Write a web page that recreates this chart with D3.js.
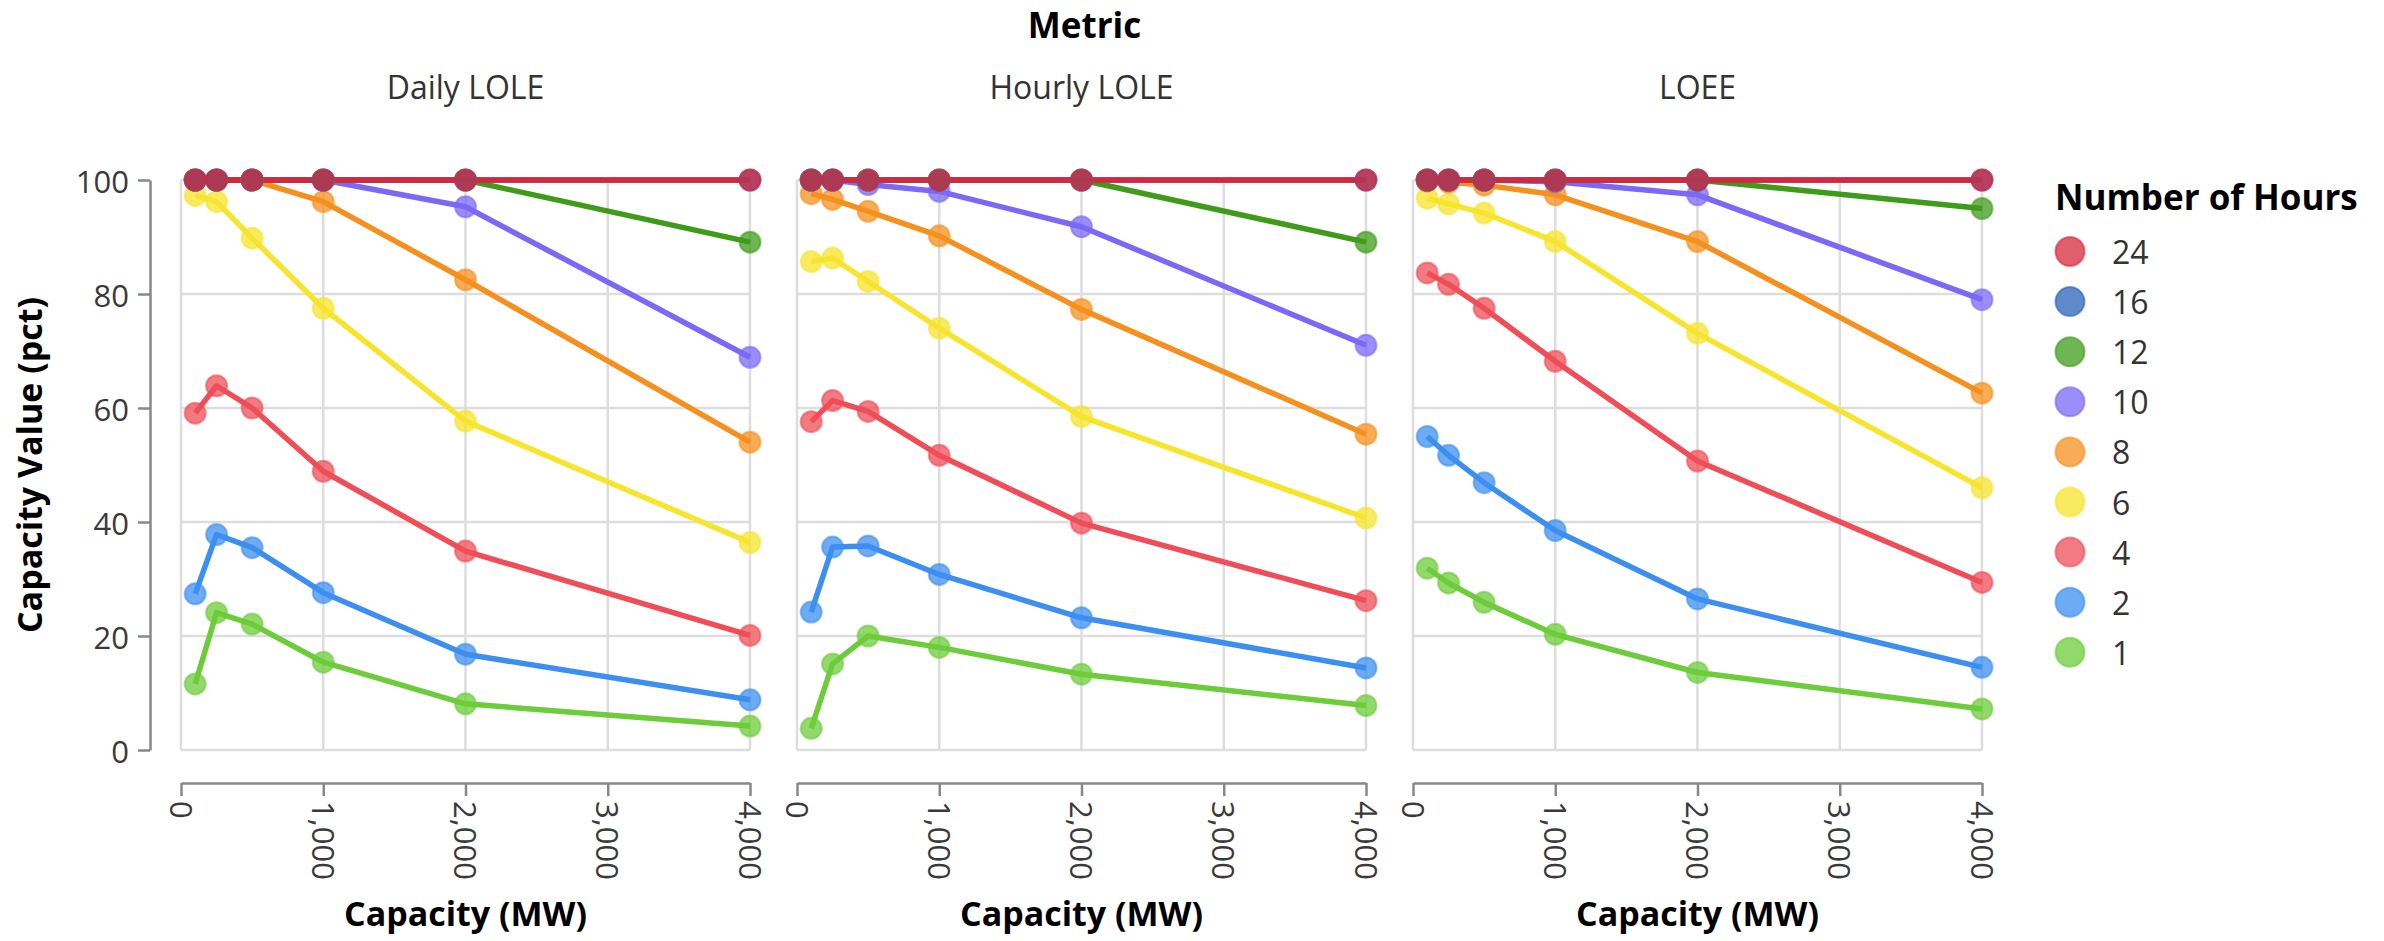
<!DOCTYPE html>
<html>
<head>
<meta charset="utf-8">
<script src="https://cdn.jsdelivr.net/npm/d3@7"></script>
<style>
  html, body { margin: 0; padding: 0; background: #fff; }
  svg { display: block; font-family: "Open Sans", sans-serif; }
</style>
</head>
<body>
<svg id="chart" width="2384" height="941"></svg>
<script>
// ---------------- data ----------------
const capacities = [100, 250, 500, 1000, 2000, 4000];
const hours = [24, 16, 12, 10, 8, 6, 4, 2, 1];
const metrics = ["Daily LOLE", "Hourly LOLE", "LOEE"];
const xTicks = [0, 1000, 2000, 3000, 4000];
const yTicks = [0, 20, 40, 60, 80, 100];
const hourColors = ["#d6283c", "#2a62b8", "#3f9c1a", "#7b68f6", "#f5901e", "#f7e42c", "#ef4d57", "#3c8ff0", "#6ccc3a"];

// rows follow the order of `hours`; columns follow `capacities`
const dailyLOLE = [
  [100, 100, 100, 100, 100, 100],
  [100, 100, 100, 100, 100, 100],
  [100, 100, 100, 100, 100, 89.1],
  [100, 100, 100, 100, 95.3, 68.9],
  [100, 100, 100, 96.2, 82.5, 54.0],
  [97.3, 96.2, 89.8, 77.5, 57.7, 36.4],
  [59.1, 63.9, 60.0, 48.9, 34.9, 20.1],
  [27.4, 37.8, 35.5, 27.6, 16.8, 8.8],
  [11.6, 24.1, 22.1, 15.4, 8.1, 4.2]
];
const hourlyLOLE = [
  [100, 100, 100, 100, 100, 100],
  [100, 100, 100, 100, 100, 100],
  [100, 100, 100, 100, 100, 89.1],
  [100, 100, 99.2, 98.0, 91.8, 71.0],
  [97.6, 96.6, 94.5, 90.2, 77.3, 55.4],
  [85.7, 86.3, 82.2, 74.0, 58.5, 40.7],
  [57.6, 61.3, 59.4, 51.7, 39.8, 26.2],
  [24.2, 35.6, 35.8, 30.8, 23.2, 14.4],
  [3.8, 15.1, 20.0, 18.0, 13.3, 7.8]
];
const loee = [
  [100, 100, 100, 100, 100, 100],
  [100, 100, 100, 100, 100, 100],
  [100, 100, 100, 100, 100, 95.0],
  [100, 100, 100, 99.7, 97.4, 79.0],
  [99.8, 99.6, 99.1, 97.4, 89.2, 62.6],
  [96.8, 95.8, 94.2, 89.2, 73.1, 46.0],
  [83.7, 81.7, 77.5, 68.2, 50.7, 29.4],
  [55.0, 51.7, 46.9, 38.5, 26.5, 14.5],
  [31.9, 29.3, 25.9, 20.3, 13.6, 7.2]
];
const metricValues = [dailyLOLE, hourlyLOLE, loee];

// ---------------- layout ----------------
const svg = d3.select("#chart");
const plotTop = 180, plotH = 570, plotW = 569;
const panelX = [181, 797, 1413];
const axisOffset = 33;

const x = d3.scaleLinear().domain([0, 4000]).range([0, plotW]);
const y = d3.scaleLinear().domain([0, 100]).range([plotH, 0]);
const color = d3.scaleOrdinal().domain(hours).range(hourColors);

const labelFont = 31, titleFont = 34;

// overall header
svg.append("text")
  .attr("x", (panelX[0] + panelX[2] + plotW) / 2 + 3)
  .attr("y", 38)
  .attr("text-anchor", "middle")
  .attr("font-size", 35).attr("font-weight", 700).attr("fill", "#000")
  .text("Metric");

metrics.forEach((m, mi) => {
  const g = svg.append("g").attr("transform", `translate(${panelX[mi]},${plotTop})`);

  // column header
  svg.append("text")
    .attr("x", panelX[mi] + plotW / 2)
    .attr("y", 99)
    .attr("text-anchor", "middle")
    .attr("font-size", 32).attr("fill", "#333")
    .text(m);

  // grid
  g.append("g").selectAll("line.gx").data(xTicks).join("line")
    .attr("x1", d => x(d)).attr("x2", d => x(d))
    .attr("y1", 0).attr("y2", plotH)
    .attr("stroke", "#dddddd").attr("stroke-width", 2.5);
  g.append("g").selectAll("line.gy").data(yTicks).join("line")
    .attr("x1", 0).attr("x2", plotW)
    .attr("y1", d => y(d)).attr("y2", d => y(d))
    .attr("stroke", "#dddddd").attr("stroke-width", 2.5);

  // x axis (offset below)
  const xAxis = d3.axisBottom(x).tickValues(xTicks).tickFormat(d3.format(",")).tickSize(13).tickSizeOuter(0);
  const xa = g.append("g").attr("transform", `translate(0,${plotH + axisOffset})`).call(xAxis);
  xa.select(".domain").attr("stroke", "#888").attr("stroke-width", 2.5);
  xa.selectAll(".tick line").attr("stroke", "#888").attr("stroke-width", 2.5);
  xa.selectAll(".tick text")
    .attr("font-family", "Open Sans, sans-serif")
    .attr("font-size", labelFont).attr("fill", "#3a3a3a")
    .attr("y", 0).attr("x", 0).attr("dy", null)
    .attr("transform", "translate(0,18) rotate(90)")
    .attr("text-anchor", "start")
    .attr("dominant-baseline", "central");

  // x axis title
  g.append("text")
    .attr("x", plotW / 2).attr("y", 926 - plotTop)
    .attr("text-anchor", "middle")
    .attr("font-size", titleFont).attr("font-weight", 700).attr("fill", "#000")
    .text("Capacity (MW)");

  // y axis only on first panel
  if (mi === 0) {
    const yAxis = d3.axisLeft(y).tickValues(yTicks).tickSize(12).tickSizeOuter(0).tickPadding(9);
    const ya = g.append("g").attr("transform", `translate(${-31},0)`).call(yAxis);
    ya.select(".domain").attr("stroke", "#888").attr("stroke-width", 2.5);
    ya.selectAll(".tick line").attr("stroke", "#888").attr("stroke-width", 2.5);
    ya.selectAll(".tick text")
      .attr("font-family", "Open Sans, sans-serif")
      .attr("font-size", labelFont).attr("fill", "#3a3a3a")
      .attr("dy", null).attr("dominant-baseline", "central");

    svg.append("text")
      .attr("transform", `translate(42,${plotTop + plotH / 2}) rotate(-90)`)
      .attr("text-anchor", "middle")
      .attr("font-size", titleFont).attr("font-weight", 700).attr("fill", "#000")
      .text("Capacity Value (pct)");
  }

  // series (draw smallest hours first so 24 is on top)
  const series = hours.map((h, hi) => ({
    h,
    pts: capacities.map((c, ci) => ({ c, v: metricValues[mi][hi][ci] }))
  })).reverse();

  const line = d3.line().x(d => x(d.c)).y(d => y(d.v));
  g.append("g").selectAll("path").data(series).join("path")
    .attr("d", d => line(d.pts))
    .attr("fill", "none")
    .attr("stroke", d => color(d.h))
    .attr("stroke-width", 5.5)
    .attr("stroke-linejoin", "round");

  const pg = g.append("g");
  series.forEach(s => {
    pg.selectAll(null).data(s.pts).join("circle")
      .attr("cx", d => x(d.c)).attr("cy", d => y(d.v)).attr("r", 10.5)
      .attr("fill", color(s.h)).attr("fill-opacity", 0.75)
      .attr("stroke", color(s.h)).attr("stroke-opacity", 0.6).attr("stroke-width", 2);
  });
});

// ---------------- legend ----------------
const lg = svg.append("g");
lg.append("text")
  .attr("x", 2055).attr("y", 210)
  .attr("font-size", 35).attr("font-weight", 700).attr("fill", "#000")
  .text("Number of Hours");
const items = lg.selectAll("g.item").data(hours).join("g")
  .attr("transform", (d, i) => `translate(2070,${251.5 + i * 50.1})`);
items.append("circle").attr("r", 14.5)
  .attr("fill", d => color(d)).attr("fill-opacity", 0.75)
  .attr("stroke", d => color(d)).attr("stroke-opacity", 0.6).attr("stroke-width", 2);
items.append("text").attr("x", 42).attr("dominant-baseline", "central")
  .attr("font-size", 32).attr("fill", "#333")
  .text(d => d);
</script>
</body>
</html>
